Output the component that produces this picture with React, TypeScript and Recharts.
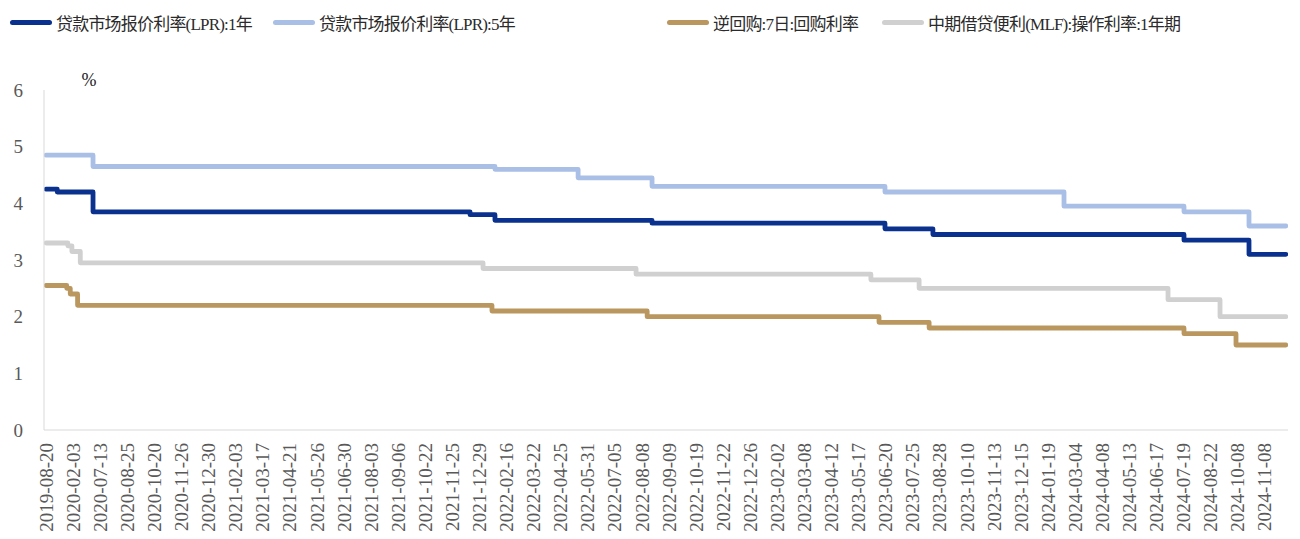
import { LineChart, Line, XAxis, YAxis, Legend } from 'recharts'

const tickDates = [
  '2019-08-20', '2020-02-03', '2020-07-13', '2020-08-25', '2020-10-20', '2020-11-26', '2020-12-30',
  '2021-02-03', '2021-03-17', '2021-04-21', '2021-05-26', '2021-06-30', '2021-08-03', '2021-09-06',
  '2021-10-22', '2021-11-25', '2021-12-29', '2022-02-16', '2022-03-22', '2022-04-25', '2022-05-31',
  '2022-07-05', '2022-08-08', '2022-09-09', '2022-10-19', '2022-11-22', '2022-12-26', '2023-02-02',
  '2023-03-08', '2023-04-12', '2023-05-17', '2023-06-20', '2023-07-25', '2023-08-28', '2023-10-10',
  '2023-11-13', '2023-12-15', '2024-01-19', '2024-03-04', '2024-04-08', '2024-05-13', '2024-06-17',
  '2024-07-19', '2024-08-22', '2024-10-08', '2024-11-08',
]
const yTicks = [0, 1, 2, 3, 4, 5, 6]

// step change points, x in units of the date ticks above
const lpr1yPos = [0, 0.41, 1.73, 15.65, 16.57, 22.37, 30.97, 32.74, 42.01, 44.41, 45.77]
const lpr1yVal = [4.25, 4.2, 3.85, 3.8, 3.7, 3.65, 3.55, 3.45, 3.35, 3.1, 3.1]

const lpr5yPos = [0, 1.73, 16.57, 19.64, 22.37, 30.97, 37.58, 42.01, 44.41, 45.77]
const lpr5yVal = [4.85, 4.65, 4.6, 4.45, 4.3, 4.2, 3.95, 3.85, 3.6, 3.6]

const repoPos = [0, 0.76, 0.89, 1.16, 16.46, 22.19, 30.75, 32.6, 42.01, 43.93, 45.77]
const repoVal = [2.55, 2.5, 2.4, 2.2, 2.1, 2.0, 1.9, 1.8, 1.7, 1.5, 1.5]

const mlfPos = [0, 0.8, 0.95, 1.26, 16.13, 21.78, 30.45, 32.23, 41.42, 43.34, 45.77]
const mlfVal = [3.3, 3.25, 3.15, 2.95, 2.85, 2.75, 2.65, 2.5, 2.3, 2.0, 2.0]

const toPoints = (pos: number[], val: number[]) => pos.map((x, i) => ({ x, v: val[i] }))

const series = [
  { name: '贷款市场报价利率(LPR):1年', color: '#0b318f', data: toPoints(lpr1yPos, lpr1yVal) },
  { name: '贷款市场报价利率(LPR):5年', color: '#a9bfe6', data: toPoints(lpr5yPos, lpr5yVal) },
  { name: '逆回购:7日:回购利率', color: '#b9975f', data: toPoints(repoPos, repoVal) },
  { name: '中期借贷便利(MLF):操作利率:1年期', color: '#d0d0d0', data: toPoints(mlfPos, mlfVal) },
]

const FONT = "'Liberation Serif', 'Noto Sans CJK SC', serif"
const legendLeft = [10, 273, 667, 882]

function LegendBox() {
  return (
    <div style={{ position: 'relative', width: 1300, height: 30, fontFamily: FONT }}>
      {series.map((s, i) => (
        <div
          key={s.name}
          style={{ position: 'absolute', left: legendLeft[i], top: 0, height: 30, display: 'flex', alignItems: 'center' }}
        >
          <span style={{ display: 'inline-block', width: 42, height: 5, borderRadius: 3, background: s.color, marginRight: 4 }} />
          <span style={{ fontSize: 17, letterSpacing: -0.8, color: '#2b2b2b', whiteSpace: 'nowrap' }}>{s.name}</span>
        </div>
      ))}
    </div>
  )
}

function DateTick({ x, y, payload }: any) {
  return (
    <text
      x={x}
      y={y}
      transform={`rotate(-90, ${x}, ${y})`}
      textAnchor="end"
      dominantBaseline="central"
      fontSize={19}
      fontFamily={FONT}
      fill="#595959"
    >
      {tickDates[payload.value]}
    </text>
  )
}

export default function App() {
  return (
    <div style={{ position: 'absolute', left: 0, top: 0, background: '#fff' }}>
      <LineChart width={1300} height={539} margin={{ top: 90, right: 12, bottom: 0, left: 0 }}>
        <XAxis
          type="number"
          dataKey="x"
          domain={[-0.08, 45.85]}
          ticks={tickDates.map((_, i) => i)}
          interval={0}
          tick={<DateTick />}
          tickLine={false}
          tickSize={0}
          tickMargin={13}
          height={109}
          stroke="#d9d9d9"
          allowDataOverflow
        />
        <YAxis
          domain={[0, 6]}
          ticks={yTicks}
          width={44}
          tickLine={false}
          tickSize={0}
          tickMargin={21}
          stroke="#d9d9d9"
          tick={{ fill: '#595959', fontSize: 19, fontFamily: FONT }}
          label={{ value: '%', position: 'top', dx: 67, offset: 4, fill: '#222', fontSize: 18, fontFamily: FONT }}
        />
        <Legend verticalAlign="middle" content={<LegendBox />} wrapperStyle={{ top: 7, left: 0, width: 1300 }} />
        {series.map(s => (
          <Line
            key={s.name}
            data={s.data}
            dataKey="v"
            name={s.name}
            type="stepAfter"
            stroke={s.color}
            strokeWidth={4.8}
            strokeLinecap="round"
            strokeLinejoin="round"
            dot={false}
            activeDot={false}
            isAnimationActive={false}
          />
        ))}
      </LineChart>
    </div>
  )
}
